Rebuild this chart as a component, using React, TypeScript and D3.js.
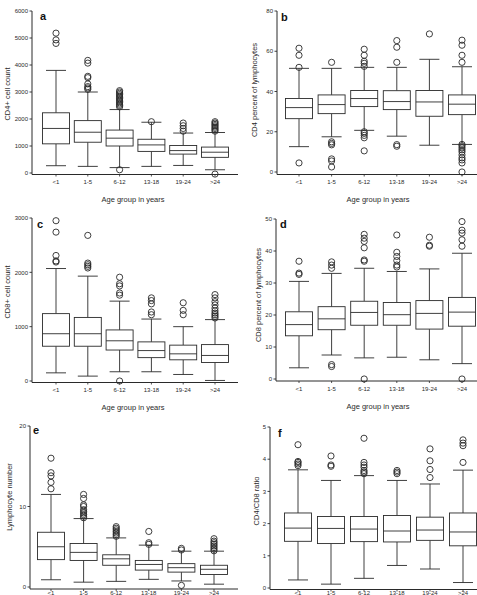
import React from "react";
import * as d3 from "d3";

// ---------- data ----------
const ageGroups = ["<1", "1-5", "6-12", "13-18", "19-24", ">24"];

// [lower whisker, Q1, median, Q3, upper whisker] per age group
const cd4CountStats = [
  [270, 1080, 1650, 2230, 3800],
  [245, 1140, 1510, 1940, 3000],
  [200, 1000, 1290, 1590, 2350],
  [245, 800, 1040, 1250, 1880],
  [280, 700, 830, 1020, 1480],
  [120, 580, 770, 960, 1500],
];
const cd4CountOutliers = [
  [4800, 4930, 5180],
  [3100, 3150, 3200, 3300, 3530, 3580, 4070, 4170],
  [120, 2450, 2500, 2550, 2600, 2650, 2700, 2750, 2800, 2850, 2900, 2950, 3000, 3050],
  [1900],
  [1550, 1650, 1750, 1850],
  [-40, 1550, 1600, 1650, 1700, 1750, 1800, 1850, 1900],
];

const cd4PctStats = [
  [12.6, 26.5, 32, 36.5, 51.5],
  [17.5, 29, 33.5, 38.3, 51.5],
  [20.7, 32.5, 36.5, 40.5, 52],
  [17.8, 31, 35, 40.4, 52],
  [13.3, 27.7, 34.8, 40.5, 56],
  [13.7, 28.5, 33.7, 38.3, 52.3],
];
const cd4PctOutliers = [
  [4.5, 52, 58, 61.5],
  [2.5, 5.5, 6.5, 13.5, 14.2, 15, 54.5],
  [10.5, 17, 18.2, 19.2, 20, 52.5, 54, 55, 58, 61],
  [12.8, 13.6, 54.5, 62, 65.3],
  [68.6],
  [0, 4.5, 6, 7, 8.5, 10, 11, 12, 13, 13.7, 54.5, 58, 63, 65.5],
];

const cd8CountStats = [
  [150, 640, 870, 1240, 2070],
  [90, 640, 870, 1170, 1930],
  [170, 570, 740, 940, 1470],
  [170, 430, 560, 720, 1140],
  [120, 390, 500, 660, 1000],
  [10, 340, 470, 670, 1130],
];
const cd8CountOutliers = [
  [2190, 2210, 2310, 2740, 2950],
  [2080, 2110, 2140, 2170, 2680],
  [0, 1580, 1620, 1750, 1790, 1910],
  [1220, 1270, 1420, 1480, 1530],
  [1220, 1300, 1440],
  [1160, 1190, 1220, 1250, 1290, 1340, 1400, 1460, 1530, 1590],
];

const cd8PctStats = [
  [3.5, 13.5, 17, 21, 30.5],
  [7.5, 15.4, 18.8, 22.6, 33],
  [6.6, 16.8, 20.8, 24.3, 34.6],
  [6.8, 16.8, 20.1, 23.9, 33.6],
  [6, 15.6, 20.5, 24.5, 34.4],
  [4.8, 16.5, 20.9, 25.5, 39.3],
];
const cd8PctOutliers = [
  [32.7, 33.1, 36.8],
  [3.9, 4.5, 34.6, 35.6, 36.6],
  [0, 36.8, 37.2, 41, 43, 44, 45.2],
  [35, 35.6, 37, 38.3, 39.6, 45],
  [41.5, 41.8, 44.3],
  [0, 41.5, 43.5, 45.6, 46.5, 49.2],
];

const lymphStats = [
  [0.9, 3.4, 5.0, 6.8, 11.5],
  [0.6, 3.3, 4.3, 5.4, 8.5],
  [0.7, 2.7, 3.5, 4.0, 6.1],
  [0.95, 2.1, 2.8, 3.3, 5.2],
  [0.75, 1.85, 2.4, 2.9, 4.45],
  [0.35, 1.55, 2.2, 2.7, 4.45],
];
const lymphOutliers = [
  [12.2, 13, 13.8, 14.2, 16],
  [8.6, 8.8, 9.0, 9.2, 9.4, 9.6, 10, 10.2, 11, 11.5],
  [6.3, 6.5, 6.7, 6.9, 7.1, 7.3, 7.5],
  [5.3, 5.5, 6.9],
  [0.2, 4.6, 4.8],
  [4.5, 4.7, 4.9, 5.1, 5.3, 5.5, 5.7, 6.0],
];

const ratioStats = [
  [0.25, 1.45, 1.86, 2.33, 3.67],
  [0.12, 1.38, 1.85, 2.22, 3.34],
  [0.3, 1.44, 1.83, 2.22, 3.49],
  [0.7, 1.43, 1.77, 2.25, 3.34],
  [0.59, 1.48, 1.8, 2.2, 3.23],
  [0.17, 1.31, 1.74, 2.33, 3.66],
];
const ratioOutliers = [
  [3.8, 3.85, 3.9, 3.93, 4.45],
  [3.78, 3.82, 4.1],
  [3.55, 3.6, 3.65, 3.75, 3.82, 3.9, 4.65],
  [3.55, 3.6, 3.65],
  [3.43, 3.68, 3.95, 4.32],
  [3.9, 4.42, 4.5, 4.6],
];

const cd4CountTicks = [0, 1000, 2000, 3000, 4000, 5000, 6000];
const cd4PctTicks = [0, 20, 40, 60, 80];
const cd8CountTicks = [0, 1000, 2000, 3000];
const cd8PctTicks = [0, 10, 20, 30, 40, 50];
const lymphTicks = [0, 10, 20];
const ratioTicks = [0, 1, 2, 3, 4, 5];

const xTitle = "Age group in years";

// ---------- drawing ----------
const INK = "#2a2a2a";
const FONT = "'Liberation Sans', Arial, Helvetica, sans-serif";

type PanelProps = {
  letter: string;
  letterPos: [number, number];
  axisX: number;
  rightX: number;
  yRange: [number, number];
  domainMax: number;
  ticks: number[];
  catRange: [number, number];
  axisY: number;
  labelDy: number;
  stats: number[][];
  outliers: number[][];
  yTitle: string;
  yTitlePos: [number, number];
  xTitleY?: number;
  xTitleX?: number;
};

function Panel(p: PanelProps) {
  const y = d3.scaleLinear().domain([0, p.domainMax]).range(p.yRange);
  const x = d3.scalePoint<string>().domain(ageGroups).range(p.catRange);
  const boxW = 27;
  const capW = 20;
  return (
    <g>
      {/* y axis */}
      <line x1={p.axisX} x2={p.axisX} y1={y(p.domainMax)} y2={p.axisY} stroke={INK} strokeWidth={1} />
      {p.ticks.map((t) => (
        <g key={t}>
          <line x1={p.axisX - 2.5} x2={p.axisX} y1={y(t)} y2={y(t)} stroke={INK} strokeWidth={0.9} />
          <text x={p.axisX - 4} y={y(t) + 2.2} fontSize={6} textAnchor="end" fill={INK} fontFamily={FONT}>
            {t}
          </text>
        </g>
      ))}
      {/* x axis */}
      <line x1={p.axisX} x2={p.rightX} y1={p.axisY} y2={p.axisY} stroke={INK} strokeWidth={1} />
      {ageGroups.map((g) => (
        <g key={g}>
          <line x1={x(g)!} x2={x(g)!} y1={p.axisY} y2={p.axisY + 2} stroke={INK} strokeWidth={0.8} />
          <text x={x(g)!} y={p.axisY + p.labelDy} fontSize={6} textAnchor="middle" fill={INK} fontFamily={FONT}>
            {g}
          </text>
        </g>
      ))}
      {/* boxes */}
      {ageGroups.map((g, i) => {
        const [lo, q1, med, q3, hi] = p.stats[i];
        const cx = x(g)!;
        return (
          <g key={"b" + g} stroke={INK} strokeWidth={0.9} fill="none">
            <line x1={cx} x2={cx} y1={y(hi)} y2={y(q3)} />
            <line x1={cx} x2={cx} y1={y(q1)} y2={y(lo)} />
            <line x1={cx - capW / 2} x2={cx + capW / 2} y1={y(hi)} y2={y(hi)} />
            <line x1={cx - capW / 2} x2={cx + capW / 2} y1={y(lo)} y2={y(lo)} />
            <rect x={cx - boxW / 2} y={y(q3)} width={boxW} height={y(q1) - y(q3)} fill="#fff" />
            <line x1={cx - boxW / 2} x2={cx + boxW / 2} y1={y(med)} y2={y(med)} />
            {p.outliers[i].map((o, j) => (
              <circle key={j} cx={cx} cy={y(o)} r={3.1} fill="none" />
            ))}
          </g>
        );
      })}
      {/* letter */}
      <text x={p.letterPos[0]} y={p.letterPos[1]} fontSize={11} fontWeight="bold" fill="#111" fontFamily={FONT}>
        {p.letter}
      </text>
      {/* y title */}
      <text
        transform={`translate(${p.yTitlePos[0]},${p.yTitlePos[1]}) rotate(-90)`}
        fontSize={7.5}
        textAnchor="middle"
        fill={INK}
        fontFamily={FONT}
      >
        {p.yTitle}
      </text>
      {/* x title */}
      {p.xTitleY !== undefined && (
        <text x={p.xTitleX} y={p.xTitleY} fontSize={7.5} textAnchor="middle" fill={INK} fontFamily={FONT}>
          {xTitle}
        </text>
      )}
    </g>
  );
}

export default function App() {
  return (
    <svg
      width={477}
      height={595}
      viewBox="0 0 477 595"
      style={{ position: "absolute", left: 0, top: 0, background: "#fff" }}
    >
      <rect x={0} y={0} width={477} height={595} fill="#fff" />
      <Panel
        letter="a"
        letterPos={[40, 20]}
        axisX={32}
        rightX={238}
        yRange={[173, 11]}
        domainMax={6000}
        ticks={cd4CountTicks}
        catRange={[56, 215]}
        axisY={174.5}
        labelDy={9.5}
        stats={cd4CountStats}
        outliers={cd4CountOutliers}
        yTitle="CD4+ cell count"
        yTitlePos={[10, 94]}
        xTitleX={133}
        xTitleY={202}
      />
      <Panel
        letter="b"
        letterPos={[281, 21]}
        axisX={277}
        rightX={477}
        yRange={[172, 11]}
        domainMax={80}
        ticks={cd4PctTicks}
        catRange={[299, 462]}
        axisY={174.5}
        labelDy={9.5}
        stats={cd4PctStats}
        outliers={cd4PctOutliers}
        yTitle="CD4 percent of lymphocytes"
        yTitlePos={[257, 90]}
        xTitleX={378}
        xTitleY={202}
      />
      <Panel
        letter="c"
        letterPos={[37, 228]}
        axisX={32}
        rightX={238}
        yRange={[381, 218]}
        domainMax={3000}
        ticks={cd8CountTicks}
        catRange={[56, 215]}
        axisY={382.5}
        labelDy={9.5}
        stats={cd8CountStats}
        outliers={cd8CountOutliers}
        yTitle="CD8+ cell count"
        yTitlePos={[10, 292]}
        xTitleX={133}
        xTitleY={410}
      />
      <Panel
        letter="d"
        letterPos={[280, 228]}
        axisX={276}
        rightX={477}
        yRange={[379, 219]}
        domainMax={50}
        ticks={cd8PctTicks}
        catRange={[299, 462]}
        axisY={381}
        labelDy={9.5}
        stats={cd8PctStats}
        outliers={cd8PctOutliers}
        yTitle="CD8 percent of lymphocytes"
        yTitlePos={[261, 295]}
        xTitleX={378}
        xTitleY={409}
      />
      <Panel
        letter="e"
        letterPos={[33, 434]}
        axisX={30}
        rightX={238}
        yRange={[587, 426]}
        domainMax={20}
        ticks={lymphTicks}
        catRange={[51, 214]}
        axisY={589}
        labelDy={5.6}
        stats={lymphStats}
        outliers={lymphOutliers}
        yTitle="Lymphocyte number"
        yTitlePos={[12, 497]}
      />
      <Panel
        letter="f"
        letterPos={[278, 437]}
        axisX={270}
        rightX={477}
        yRange={[588, 427]}
        domainMax={5}
        ticks={ratioTicks}
        catRange={[298, 463]}
        axisY={589.5}
        labelDy={5.2}
        stats={ratioStats}
        outliers={ratioOutliers}
        yTitle="CD4/CD8 ratio"
        yTitlePos={[259, 501]}
      />
    </svg>
  );
}
